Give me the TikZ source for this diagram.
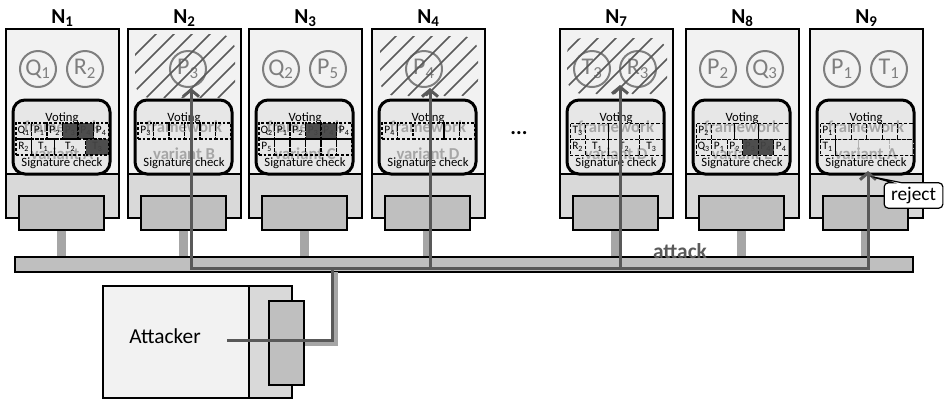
\documentclass[tikz,border=0pt]{standalone}
\usepackage{fontspec}
\setmainfont{Carlito}
\usetikzlibrary{arrows.meta, positioning, shapes.callouts}
\definecolor{cbg}{HTML}{F2F2F2}
\definecolor{clow}{HTML}{D9D9D9}
\definecolor{cnic}{HTML}{BFBFBF}
\definecolor{cvote}{HTML}{E7E7E7}
\definecolor{cstem}{HTML}{A6A6A6}
\definecolor{cdark}{HTML}{595959}
\definecolor{ccell}{HTML}{4D4D4D}
\definecolor{cring}{HTML}{7F7F7F}
\tikzset{
  every picture/.style={line width=0.9pt},
  outer/.style={draw=black, line width=0.9pt},
  nic/.style={draw, fill=cnic, line width=0.9pt, minimum width=63.75pt, minimum height=25.5pt, inner sep=0pt},
  stem/.style={draw=cstem, line width=6.75pt},
  bus/.style={draw, fill=cnic, line width=0.9pt, minimum width=673.5pt, minimum height=11.25pt, inner sep=0pt},
  vote/.style={draw, fill=cvote, line width=2.25pt, rounded corners=9pt, minimum width=72.75pt, minimum height=55.5pt, inner sep=0pt},
  vtext/.style={font=\fontsize{9.5}{10}\selectfont, inner sep=0pt, anchor=base},
  ghost/.style={font=\fontsize{12.5}{13}\selectfont\bfseries, text=cstem, inner sep=0pt, anchor=base},
  nlabel/.style={font=\fontsize{16}{16}\selectfont\bfseries, inner sep=0pt, anchor=base},
  ring/.style={circle, draw=cring, line width=1.5pt, minimum size=27pt, inner sep=0pt, fill=cbg, text=cring, font=\fontsize{18}{18}\selectfont},
  hatch/.style={draw=cdark, line width=1.1pt},
  cell/.style={inner sep=0pt, minimum height=12pt, font=\fontsize{8.5}{9}\selectfont},
  tbl/.style={cell, draw, line width=1pt, dash pattern=on 2pt off 1.5pt},
  tblthin/.style={cell, draw, line width=0.5pt, dash pattern=on 2.5pt off 1.5pt},
  tblfaint/.style={cell, draw=black!30, line width=0.5pt, dash pattern=on 2.5pt off 1.5pt},
  dk/.style={fill=ccell, text=black!75},
  lt/.style={},
  attack/.style={draw=cdark, line width=2.25pt},
  attackarrow/.style={attack, -{Straight Barb[length=5pt, width=12pt]}},
  wire/.style={draw=cstem, line width=4.5pt},
}
\newcommand{\idx}[2]{#1\textsubscript{#2}}
\begin{document}
\begin{tikzpicture}[x=0.75pt, y=-0.75pt]
  \useasboundingbox (0,0) rectangle (948,401);
  % one row of a voting table: \vrow{name}{y}{style}{start/width/text/fill}
  \newcommand{\vrow}[4]{%
    \foreach \a/\w/\t/\f [count=\k] in {#4}
      \node[#3, \f, minimum width=\w*11.625pt] (#1-#2-\k) at (10+\a*15.5+\w*7.75, #2) {\t};}
  % diagonal hatching over the top part of a node
  \newcommand{\hatchbox}[4]{%
    \begin{scope}
      \clip[rounded corners=12pt] (#1,#2) rectangle (#3,#4);
      \foreach \s in {-90,-72,...,120} \draw[hatch] (\s,#4) -- ++(90,-90);
    \end{scope}}
  % \netnode{name}{left x}{index}{variant}{contents}
  \newcommand{\netnode}[5]{%
    \begin{scope}[shift={(#2,0)}]
      \node[nlabel] (#1-lbl) at (56.5,23) {N\textsubscript{#3}};
      \draw[outer, fill=cbg] (0,29) rectangle (113,174);
      \draw[outer, fill=clow] (0,174) rectangle (113,218);
      \node[nic] (#1-nic) at (55.5,213) {};
      \draw[stem] (#1-nic.south) -- (#1-nic.south |- bus.north);
      \node[vote] (#1-vote) at (55.5,137) {};
      \node[ghost] (#1-fw) at (56,132) {framework};
      \node[ghost] (#1-var) at (56,159) {variant #4};
      \node[vtext] (#1-vt) at (56,121) {Voting};
      \node[vtext] (#1-sc) at (56,166) {Signature check};
      #5
    \end{scope}}

  \node[bus] (bus) at (464,264.5) {};

  \netnode{n1}{6}{1}{A}{
    \vrow{n1}{131}{tbl}{0/1/\idx{Q}{1}/lt, 1/1/\idx{P}{1}/lt, 2/1/\idx{P}{2}/lt, 3/1/\idx{P}{3}/dk, 4/1/\idx{P}{4}/dk, 5/1/\idx{P}{4}/lt}
    \vrow{n1}{147}{tbl}{0/1/\idx{R}{2}/lt, 1/1.5/\idx{T}{1}/lt, 2.5/2/\idx{T}{2}/lt, 4.5/1.5/\idx{T}{3}/dk}
    \node[ring] (n1-c1) at (32,69) {\idx{Q}{1}};
    \node[ring] (n1-c2) at (79,69) {\idx{R}{2}};
  }
  \netnode{n2}{128}{2}{B}{
    \vrow{n2}{131}{tbl}{0/1/\idx{P}{3}/lt, 1/1/{}/lt, 2/1/{}/lt, 3/1/{}/lt, 4/1/{}/lt, 5/1/{}/lt}
    \node[ring] (n2-c1) at (60,69) {\idx{P}{3}};
    \hatchbox{7}{34}{107}{98}
  }
  \netnode{n3}{249}{3}{C}{
    \vrow{n3}{131}{tbl}{0/1/\idx{Q}{2}/lt, 1/1/\idx{P}{1}/lt, 2/1/\idx{P}{2}/lt, 3/1/\idx{P}{3}/dk, 4/1/\idx{P}{4}/dk, 5/1/\idx{P}{4}/lt}
    \vrow{n3}{147}{tbl}{0/1/\idx{P}{5}/lt, 1/1/{}/lt, 2/1/{}/lt, 3/1/{}/lt, 4/1/{}/lt, 5/1/{}/lt}
    \node[ring] (n3-c1) at (32,69) {\idx{Q}{2}};
    \node[ring] (n3-c2) at (79,69) {\idx{P}{5}};
  }
  \netnode{n4}{372}{4}{D}{
    \vrow{n4}{131}{tbl}{0/1/\idx{P}{4}/lt, 1/1/{}/lt, 2/2/{}/lt, 4/1/{}/lt, 5/1/{}/lt}
    \node[ring] (n4-c1) at (52,69) {\idx{P}{4}};
    \hatchbox{8}{36}{106}{96}
  }
  \netnode{n7}{560}{7}{D}{
    \vrow{n7}{131}{tblthin}{0/1/\idx{T}{3}/lt, 1/1.5/{}/lt, 2.5/2/{}/lt, 4.5/1.5/{}/lt}
    \vrow{n7}{147}{tblthin}{0/1/\idx{R}{2}/lt, 1/1.5/\idx{T}{1}/lt, 2.5/2/\idx{T}{2}/lt, 4.5/1.5/\idx{T}{3}/lt}
    \node[ring] (n7-c1) at (32,69) {\idx{T}{3}};
    \node[ring] (n7-c2) at (78,69) {\idx{R}{3}};
    \hatchbox{7}{38}{107}{94}
  }
  \netnode{n8}{686}{8}{E}{
    \vrow{n8}{131}{tblthin}{0/1/\idx{P}{2}/lt, 1/1.5/{}/lt, 2.5/1.5/{}/lt, 4/2/{}/lt}
    \vrow{n8}{147}{tblthin}{0/1/\idx{Q}{3}/lt, 1/1/\idx{P}{1}/lt, 2/1/\idx{P}{2}/lt, 3/1/\idx{P}{3}/dk, 4/1/\idx{P}{4}/dk, 5/1/\idx{P}{4}/lt}
    \node[ring] (n8-c1) at (32,69) {\idx{P}{2}};
    \node[ring] (n8-c2) at (79,69) {\idx{Q}{3}};
  }
  \netnode{n9}{810}{9}{A}{
    \vrow{n9}{131}{tblthin}{0/1/\idx{P}{1}/lt, 1/1/{}/lt, 2/1/{}/lt, 3/1/{}/lt, 4/1/{}/lt, 5/1/{}/lt}
    \vrow{n9f}{147}{tblfaint}{1/1.5/{}/lt, 2.5/2/{}/lt, 4.5/1.5/{}/lt}
    \vrow{n9}{147}{tblthin}{0/1/\idx{T}{1}/lt, 1/5/{}/lt}
    \node[ring] (n9-c1) at (32,69) {\idx{P}{1}};
    \node[ring] (n9-c2) at (79,69) {\idx{T}{1}};
  }

  \node[font=\fontsize{16}{16}\selectfont\bfseries, anchor=base] (dots) at (519,134) {...};

  % attacker
  \node[draw, fill=cbg, minimum width=109.5pt, minimum height=84pt, inner sep=0pt] (att) at (176,342) {};
  \node[draw, fill=clow, minimum width=32.25pt, minimum height=84pt, inner sep=0pt] (attr) at (270.5,342) {};
  \node[nic, minimum width=26.25pt, minimum height=63pt] (anic) at (286.5,343) {};
  \node[font=\fontsize{16}{16}\selectfont, anchor=base, inner sep=0pt] (atxt) at (165,343) {Attacker};
  \coordinate (wdrop) at (335,272);
  \draw[wire] (anic.east) -| (wdrop);

  % attack paths
  \coordinate (astart) at (227,340);
  \coordinate (jct) at (332,268);
  \coordinate (t2) at (191,88);
  \coordinate (t4) at (430,88);
  \coordinate (t7) at (620,85);
  \coordinate (t9) at (868,171);
  \draw[attack] (astart) -| (jct);
  \draw[attackarrow] (jct) -| (t2);
  \draw[attackarrow] (jct) -| (t4);
  \draw[attackarrow] (jct) -| (t7);
  \draw[attackarrow] (jct) -| (t9);
  \node[font=\fontsize{16}{16}\selectfont\bfseries, text=cdark, anchor=base, inner sep=0pt] (lattack) at (680,258) {attack};

  \coordinate (rejtip) at (873,177);
  \node[rectangle callout, draw, fill=white, line width=0.9pt, rounded corners=3pt, callout absolute pointer={(rejtip)}, font=\fontsize{14.5}{15}\selectfont, inner sep=2pt, minimum width=44pt, minimum height=19pt] (rej) at (913.5,195.5) {reject};
\end{tikzpicture}
\end{document}
